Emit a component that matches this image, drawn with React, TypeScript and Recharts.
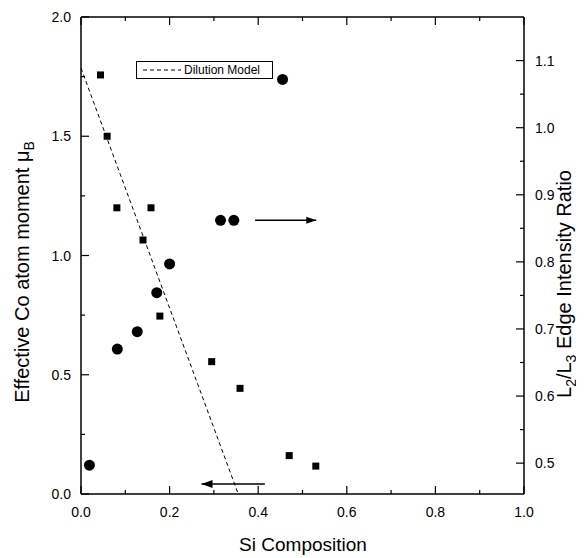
import React from 'react';
import { ComposedChart, Scatter, XAxis, YAxis, Legend } from 'recharts';

// Squares: effective Co atom moment (left axis, μB)
const momentData = [
  { x: 0.044, y: 1.757 },
  { x: 0.059, y: 1.5 },
  { x: 0.081, y: 1.2 },
  { x: 0.14, y: 1.065 },
  { x: 0.158, y: 1.2 },
  { x: 0.178, y: 0.746 },
  { x: 0.295, y: 0.555 },
  { x: 0.359, y: 0.443 },
  { x: 0.47, y: 0.161 },
  { x: 0.53, y: 0.117 },
];

// Circles: L2/L3 edge intensity ratio (right axis)
const ratioData = [
  { x: 0.019, y: 0.497 },
  { x: 0.082, y: 0.67 },
  { x: 0.127, y: 0.696 },
  { x: 0.171, y: 0.754 },
  { x: 0.2, y: 0.797 },
  { x: 0.315, y: 0.862 },
  { x: 0.345, y: 0.862 },
  { x: 0.455, y: 1.072 },
];

// Dilution model (left axis)
const dilutionData = [
  { x: 0.0, y: 1.786 },
  { x: 0.355, y: 0.0 },
];

// Annotation arrows
const arrowRatio = [
  { x: 0.393, y: 0.862, head: false },
  { x: 0.531, y: 0.862, head: true },
];
const arrowMoment = [
  { x: 0.415, y: 0.042, head: false },
  { x: 0.272, y: 0.042, head: true },
];

const xTicks = [0, 0.1, 0.2, 0.3, 0.4, 0.5, 0.6, 0.7, 0.8, 0.9, 1.0];
const xMajor = [0, 0.2, 0.4, 0.6, 0.8, 1.0];
const leftTicks = [0, 0.25, 0.5, 0.75, 1.0, 1.25, 1.5, 1.75, 2.0];
const leftMajor = [0, 0.5, 1.0, 1.5, 2.0];
const rightTicks = [0.5, 0.55, 0.6, 0.65, 0.7, 0.75, 0.8, 0.85, 0.9, 0.95, 1.0, 1.05, 1.1];
const rightMajor = [0.5, 0.6, 0.7, 0.8, 0.9, 1.0, 1.1];

const xDomain = [0, 1];
const leftDomain = [0, 2];
const rightDomain = [0.454, 1.165];

const FONT = '"Liberation Sans", Arial, Helvetica, sans-serif';
const TICK_FS = 14;
const TITLE_FS = 20;
const MAJOR = 8;
const MINOR = 4;

const isIn = (arr: number[], v: number) => arr.some((a) => Math.abs(a - v) < 1e-6);

const BottomTick = (p: any) => {
  const major = isIn(xMajor, p.payload.value);
  return (
    <g>
      <line x1={p.x} y1={p.y} x2={p.x} y2={p.y - (major ? MAJOR : MINOR)} stroke="#000" strokeWidth={1.2} />
      {major && (
        <text x={p.x} y={p.y + 23} textAnchor="middle" fontSize={TICK_FS} fontFamily={FONT} fill="#000">
          {p.payload.value.toFixed(1)}
        </text>
      )}
    </g>
  );
};

const TopTick = (p: any) => {
  const major = isIn(xMajor, p.payload.value);
  return <line x1={p.x} y1={p.y} x2={p.x} y2={p.y + (major ? MAJOR : MINOR)} stroke="#000" strokeWidth={1.2} />;
};

const LeftTick = (p: any) => {
  const major = isIn(leftMajor, p.payload.value);
  return (
    <g>
      <line x1={p.x} y1={p.y} x2={p.x + (major ? MAJOR : MINOR)} y2={p.y} stroke="#000" strokeWidth={1.2} />
      {major && (
        <text x={p.x - 10} y={p.y + 5} textAnchor="end" fontSize={TICK_FS} fontFamily={FONT} fill="#000">
          {p.payload.value.toFixed(1)}
        </text>
      )}
    </g>
  );
};

const RightTick = (p: any) => {
  const major = isIn(rightMajor, p.payload.value);
  return (
    <g>
      <line x1={p.x} y1={p.y} x2={p.x - (major ? MAJOR : MINOR)} y2={p.y} stroke="#000" strokeWidth={1.2} />
      {major && (
        <text x={p.x + 11} y={p.y + 5} textAnchor="start" fontSize={TICK_FS} fontFamily={FONT} fill="#000">
          {p.payload.value.toFixed(1)}
        </text>
      )}
    </g>
  );
};

const Square = (p: any) => <rect x={p.cx - 3.5} y={p.cy - 3.5} width={7} height={7} fill="#000" />;
const Dot = (p: any) => <circle cx={p.cx} cy={p.cy} r={5.5} fill="#000" />;
const Empty = () => <g />;

const RightHead = (p: any) =>
  p.payload && p.payload.head ? (
    <polygon points={`${p.cx},${p.cy} ${p.cx - 10},${p.cy - 3.5} ${p.cx - 10},${p.cy + 3.5}`} fill="#000" />
  ) : (
    <g />
  );
const LeftHead = (p: any) =>
  p.payload && p.payload.head ? (
    <polygon points={`${p.cx},${p.cy} ${p.cx + 11},${p.cy - 4} ${p.cx + 11},${p.cy + 4}`} fill="#000" />
  ) : (
    <g />
  );

const LegendBox = () => (
  <div
    style={{
      border: '1px solid #000',
      width: 135,
      height: 16,
      background: '#fff',
      display: 'flex',
      alignItems: 'center',
      fontFamily: FONT,
      fontSize: 12,
      lineHeight: '16px',
      boxSizing: 'content-box',
    }}
  >
    <svg width={46} height={16} style={{ display: 'block' }}>
      <line x1={6} y1={8} x2={44} y2={8} stroke="#000" strokeWidth={1} strokeDasharray="4 3" />
    </svg>
    <span style={{ marginLeft: 1 }}>Dilution Model</span>
  </div>
);

const LeftTitle = () => (
  <text
    x={0}
    y={0}
    transform="translate(21, 264) rotate(-90)"
    textAnchor="middle"
    fontSize={TITLE_FS}
    fontFamily={FONT}
    fill="#000"
  >
    Effective Co atom moment μ
    <tspan fontSize={14} dy={5}>B</tspan>
  </text>
);

const RightTitle = () => (
  <text
    x={0}
    y={0}
    transform="translate(563, 276) rotate(-90)"
    textAnchor="middle"
    fontSize={TITLE_FS}
    fontFamily={FONT}
    fill="#000"
  >
    L<tspan fontSize={14} dy={5}>2</tspan>
    <tspan dy={-5}>/L</tspan>
    <tspan fontSize={14} dy={5}>3</tspan>
    <tspan dy={-5}> Edge Intensity Ratio</tspan>
  </text>
);

const BottomTitle = () => (
  <text x={295} y={543} textAnchor="middle" fontSize={19} fontFamily={FONT} fill="#000">
    Si Composition
  </text>
);

export default function App() {
  return (
    <div style={{ position: 'relative', width: 576, height: 550 }}>
      <ComposedChart width={576} height={550} margin={{ top: 0, right: 0, bottom: 0, left: 0 }}>
        <XAxis
          xAxisId="bottom"
          dataKey="x"
          type="number"
          domain={xDomain}
          ticks={xTicks}
          interval={0}
          height={64}
          tickSize={0}
          tickMargin={0}
          tick={BottomTick}
          axisLine={{ stroke: '#000', strokeWidth: 1.5 }}
          tickLine={false}
          allowDataOverflow
        />
        <XAxis
          xAxisId="top"
          orientation="top"
          dataKey="x"
          type="number"
          domain={xDomain}
          ticks={xTicks}
          interval={0}
          height={9}
          tickSize={0}
          tickMargin={0}
          tick={TopTick}
          axisLine={{ stroke: '#000', strokeWidth: 1.5 }}
          tickLine={false}
          allowDataOverflow
        />
        <YAxis
          yAxisId="left"
          dataKey="y"
          type="number"
          domain={leftDomain}
          ticks={leftTicks}
          interval={0}
          width={73}
          tickSize={0}
          tickMargin={0}
          tick={LeftTick}
          axisLine={{ stroke: '#000', strokeWidth: 1.5 }}
          tickLine={false}
          allowDataOverflow
        />
        <YAxis
          yAxisId="right"
          orientation="right"
          dataKey="y"
          type="number"
          domain={rightDomain}
          ticks={rightTicks}
          interval={0}
          width={60}
          tickSize={0}
          tickMargin={0}
          tick={RightTick}
          axisLine={{ stroke: '#000', strokeWidth: 1.5 }}
          tickLine={false}
          allowDataOverflow
        />
        <Legend
          layout="horizontal"
          verticalAlign="middle"
          align="center"
          content={LegendBox}
          wrapperStyle={{ position: 'absolute', left: 128, top: 53, width: 'auto', height: 'auto' }}
        />
        <Scatter
          name="Dilution Model"
          data={dilutionData}
          xAxisId="top"
          yAxisId="left"
          line={{ stroke: '#000', strokeWidth: 1, strokeDasharray: '4 3' }}
          shape={Empty}
          isAnimationActive={false}
        />
        <Scatter
          name="moment"
          data={momentData}
          xAxisId="bottom"
          yAxisId="left"
          shape={Square}
          isAnimationActive={false}
          legendType="none"
        />
        <Scatter
          name="ratio"
          data={ratioData}
          xAxisId="bottom"
          yAxisId="right"
          shape={Dot}
          isAnimationActive={false}
          legendType="none"
        />
        <Scatter
          name="arrowRatio"
          data={arrowRatio}
          xAxisId="bottom"
          yAxisId="right"
          line={{ stroke: '#000', strokeWidth: 1.5 }}
          shape={RightHead}
          isAnimationActive={false}
          legendType="none"
        />
        <Scatter
          name="arrowMoment"
          data={arrowMoment}
          xAxisId="bottom"
          yAxisId="left"
          line={{ stroke: '#000', strokeWidth: 1.5 }}
          shape={LeftHead}
          isAnimationActive={false}
          legendType="none"
        />
        <LeftTitle />
        <RightTitle />
        <BottomTitle />
      </ComposedChart>
    </div>
  );
}
